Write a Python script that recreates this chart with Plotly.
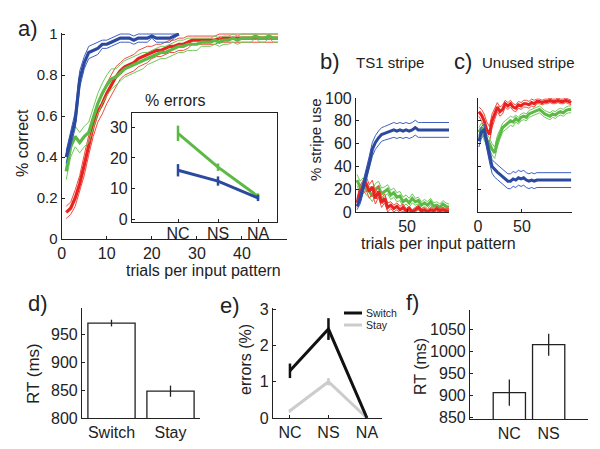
import plotly.graph_objects as go

# ---------------- data ----------------
# panel a: % correct vs trials
a_x_blue = list(range(1, 27))
a_blue = [0.40, 0.49, 0.58, 0.78, 0.86, 0.91, 0.92, 0.93, 0.95, 0.95, 0.96, 0.97, 0.98,
          0.98, 0.98, 0.97, 0.98, 0.98, 0.98, 0.99, 0.98, 0.98, 0.98, 0.98, 0.99, 1.00]
a_blue_err = [0.03, 0.04, 0.04, 0.04, 0.03, 0.03, 0.03, 0.03, 0.02, 0.02, 0.02, 0.02, 0.02,
              0.02, 0.02, 0.02, 0.02, 0.02, 0.02, 0.01, 0.02, 0.02, 0.02, 0.02, 0.01, 0.0]
a_x_rg = list(range(1, 49))
a_red = [0.13, 0.15, 0.20, 0.27, 0.36, 0.46, 0.55, 0.62, 0.66, 0.71, 0.75, 0.79, 0.82, 0.84,
         0.85, 0.86, 0.88, 0.89, 0.90, 0.91, 0.92, 0.92, 0.93, 0.94, 0.94, 0.95, 0.95, 0.96,
         0.97, 0.97, 0.97, 0.97, 0.97, 0.97, 0.98, 0.98, 0.98, 0.98, 0.98, 0.98, 0.98, 0.98,
         0.98, 0.98, 0.98, 0.98, 0.98, 0.98]
a_red_err = [0.03, 0.03, 0.04, 0.04, 0.05, 0.05, 0.05, 0.05, 0.05, 0.05, 0.05, 0.05, 0.04, 0.04,
             0.04, 0.04, 0.04, 0.04, 0.04, 0.03, 0.03, 0.03, 0.03, 0.03, 0.03, 0.03, 0.03, 0.03,
             0.02, 0.02, 0.02, 0.02, 0.02, 0.02, 0.02, 0.02, 0.02, 0.02, 0.02, 0.02, 0.02, 0.02,
             0.02, 0.02, 0.02, 0.02, 0.02, 0.02]
a_green = [0.33, 0.45, 0.50, 0.47, 0.50, 0.52, 0.59, 0.66, 0.71, 0.75, 0.78, 0.79, 0.81, 0.83,
           0.84, 0.85, 0.86, 0.87, 0.88, 0.89, 0.90, 0.91, 0.91, 0.92, 0.93, 0.94, 0.94, 0.95,
           0.95, 0.95, 0.96, 0.96, 0.96, 0.97, 0.96, 0.97, 0.97, 0.98, 0.97, 0.98, 0.98, 0.98,
           0.99, 0.98, 0.98, 0.99, 0.98, 0.98]
a_green_err = [0.04, 0.05, 0.05, 0.05, 0.05, 0.05, 0.05, 0.05, 0.05, 0.05, 0.05, 0.04, 0.04, 0.04,
               0.04, 0.04, 0.04, 0.04, 0.03, 0.03, 0.03, 0.03, 0.03, 0.03, 0.03, 0.03, 0.03, 0.03,
               0.03, 0.03, 0.02, 0.02, 0.02, 0.02, 0.02, 0.02, 0.02, 0.02, 0.02, 0.02, 0.02, 0.02,
               0.01, 0.02, 0.02, 0.01, 0.02, 0.02]

# inset: % errors
inset_cats = ["NC", "NS", "NA"]
inset_green = [28, 17, 7.5]
inset_green_err = [2.5, 1.2, 1.0]
inset_blue = [16, 12.5, 7]
inset_blue_err = [2.0, 1.5, 1.0]

# panel b: TS1 stripe use
b_x = list(range(1, 92, 3))
b_blue = [5, 11, 22, 32, 43, 55, 61, 65, 68, 69, 70, 71, 72, 71, 72, 71, 72, 71, 72, 74,
          72, 72, 72, 72, 72, 72, 72, 72, 72, 72, 72]
b_blue_err = [3, 4, 5, 5, 6, 6, 6, 6, 6, 6, 6, 6, 6.5, 6.5, 6.5, 6.5, 6.5, 6.5, 6.5, 6.5,
              6.5, 6.5, 6.5, 6.5, 6.5, 6.5, 6.5, 6.5, 6.5, 6.5, 6.5]
b_red = [8, 18, 22, 25, 18, 22, 12, 18, 8, 12, 4, 6, 3, 5, 2, 4, 1, 3, 0, 2,
         4, 1, 2, 0, 2, 1, 3, 1, 2, 1, 1]
b_red_err = [4, 5, 6, 6, 6, 6, 5, 5, 4, 4, 4, 3, 3, 3, 3, 3, 2, 2, 2, 2,
             2, 2, 2, 2, 2, 2, 2, 2, 2, 2, 2]
b_green = [28, 22, 25, 20, 18, 14, 20, 22, 16, 18, 20, 15, 17, 13, 14, 9, 11, 8, 12, 9,
           10, 6, 8, 6, 9, 5, 6, 4, 7, 5, 4]
b_green_err = [5, 5, 5, 5, 5, 5, 5, 5, 5, 4, 4, 4, 4, 4, 4, 4, 4, 4, 4, 3,
               3, 3, 3, 3, 3, 3, 3, 3, 3, 3, 3]

# panel c: unused stripe use
c_x = list(range(1, 107, 3))
c_red = [88, 85, 80, 72, 68, 80, 86, 92, 88, 90, 95, 93, 95, 92, 91, 94, 93, 95, 95, 94,
         96, 95, 97, 97, 96, 97, 97, 98, 97, 97, 98, 97, 97, 98, 97, 96]
c_red_err = [4, 5, 6, 7, 7, 6, 5, 4, 4, 4, 3, 3, 3, 3, 3, 3, 3, 3, 3, 3,
             3, 3, 2, 2, 2, 2, 2, 2, 2, 2, 2, 2, 2, 2, 2, 2]
c_green = [70, 74, 68, 63, 60, 55, 52, 62, 68, 74, 76, 78, 80, 79, 82, 80, 83, 84, 83, 86,
           87, 88, 89, 90, 88, 86, 85, 84, 86, 85, 87, 88, 87, 89, 90, 90]
c_green_err = [4, 4, 5, 5, 5, 5, 5, 5, 4, 4, 4, 4, 4, 4, 3, 3, 3, 3, 3, 3,
               3, 3, 3, 3, 3, 3, 3, 3, 3, 3, 3, 3, 3, 3, 3, 3]
c_blue = [62, 70, 72, 60, 50, 40, 37, 35, 33, 31, 29, 27, 27, 29, 28, 30, 29, 30, 28, 27,
          28, 27, 28, 28, 28, 28, 28, 28, 28, 28, 28, 28, 28, 28, 28, 28]
c_blue_err = [5, 5, 5, 6, 6, 6, 6.5, 6.5, 6.5, 6.5, 6.5, 6.5, 6.5, 6.5, 6.5, 6.5, 6.5, 6.5,
              6.5, 6.5, 6.5, 6.5, 6.5, 6.5, 6.5, 6.5, 6.5, 6.5, 6.5, 6.5, 6.5, 6.5, 6.5,
              6.5, 6.5, 6.5]

# panel d: RT switch/stay
d_cats = ["Switch", "Stay"]
d_rt = [970, 848]
d_rt_err = [6, 10]

# panel e: errors (%)
e_cats = ["NC", "NS", "NA"]
e_switch = [1.3, 2.45, 0.0]
e_switch_err = [0.2, 0.3, 0.0]
e_stay = [0.2, 1.0, 0.0]
e_stay_err = [0.05, 0.1, 0.0]

# panel f: RT NC/NS
f_cats = ["NC", "NS"]
f_rt = [906, 1015]
f_rt_err = [30, 25]

# ---------------- style ----------------
W, H = 600, 449
FONT = "Liberation Sans, Arial, Helvetica, sans-serif"
BLUE, BLUE_T = "#2b4a9e", "#3d5fc4"
RED, RED_T = "#e8231f", "#f04a40"
GREEN, GREEN_T = "#5cb946", "#6ecb58"


def px_x(p):
    return p / W


def px_y(p):
    return 1 - p / H


fig = go.Figure()


def band(xs, mean, err, ax, color, tcolor, mw, tw=1.0):
    up = [m + e for m, e in zip(mean, err)]
    lo = [m - e for m, e in zip(mean, err)]
    for ys in (up, lo):
        fig.add_trace(go.Scatter(x=xs, y=ys, mode="lines", xaxis="x" + ax, yaxis="y" + ax,
                                 line=dict(color=tcolor, width=tw), showlegend=False,
                                 hoverinfo="skip"))
    fig.add_trace(go.Scatter(x=xs, y=mean, mode="lines", xaxis="x" + ax, yaxis="y" + ax,
                             line=dict(color=color, width=mw), showlegend=False))


# panel a
band(a_x_rg, a_red, a_red_err, "", RED, RED_T, 3.2)
band(a_x_rg, a_green, a_green_err, "", GREEN, GREEN_T, 3.2)
band(a_x_blue, a_blue, a_blue_err, "", BLUE, BLUE_T, 3.2)

# inset
inset_x = [1, 2, 3]
for vals, errs, col in ((inset_green, inset_green_err, GREEN), (inset_blue, inset_blue_err, BLUE)):
    fig.add_trace(go.Scatter(x=inset_x, y=vals, mode="lines", xaxis="x2", yaxis="y2",
                             line=dict(color=col, width=3),
                             error_y=dict(type="data", array=errs, width=0, thickness=2.5, color=col),
                             showlegend=False))

# panel b
band(b_x, b_green, b_green_err, "3", GREEN, GREEN_T, 3)
band(b_x, b_red, b_red_err, "3", RED, RED_T, 3)
band(b_x, b_blue, b_blue_err, "3", BLUE, BLUE_T, 3)

# panel c
band(c_x, c_red, c_red_err, "4", RED, RED_T, 3)
band(c_x, c_green, c_green_err, "4", GREEN, GREEN_T, 3)
band(c_x, c_blue, c_blue_err, "4", BLUE, BLUE_T, 3)

# panel d
fig.add_trace(go.Bar(x=[1, 2], y=d_rt, width=0.8, xaxis="x5", yaxis="y5",
                     marker=dict(color="white", line=dict(color="#222", width=1.3)),
                     error_y=dict(type="data", array=d_rt_err, width=0, thickness=1.3, color="#222"),
                     showlegend=False))

# panel e
fig.add_trace(go.Scatter(x=[1, 2, 3], y=e_stay, mode="lines", xaxis="x6", yaxis="y6",
                         line=dict(color="#cccccc", width=3),
                         error_y=dict(type="data", array=e_stay_err, width=0, thickness=2.5, color="#cccccc"),
                         showlegend=False))
fig.add_trace(go.Scatter(x=[1, 2, 3], y=e_switch, mode="lines", xaxis="x6", yaxis="y6",
                         line=dict(color="#111111", width=3),
                         error_y=dict(type="data", array=e_switch_err, width=0, thickness=2.5, color="#111111"),
                         showlegend=False))

# panel f
fig.add_trace(go.Bar(x=[1, 2], y=f_rt, width=0.82, xaxis="x7", yaxis="y7",
                     marker=dict(color="white", line=dict(color="#222", width=1.3)),
                     error_y=dict(type="data", array=f_rt_err, width=0, thickness=1.3, color="#222"),
                     showlegend=False))

TF = dict(family=FONT, size=16, color="#222")


def ax(domain, rng, anchor, **kw):
    d = dict(domain=domain, range=rng, anchor=anchor, showline=True, linecolor="#222",
             linewidth=1.2, ticks="inside", ticklen=3, tickcolor="#222", showgrid=False,
             zeroline=False, tickfont=TF, automargin=False, fixedrange=True)
    d.update(kw)
    return d


yb = [px_y(212), px_y(98)]
ybot = [px_y(418), px_y(308)]

fig.update_layout(
    width=W, height=H, margin=dict(l=0, r=0, t=0, b=0),
    paper_bgcolor="white", plot_bgcolor="rgba(0,0,0,0)",
    font=dict(family=FONT, size=16, color="#222"),
    showlegend=False,
    xaxis=ax([px_x(61.7), px_x(287)], [0, 50], "y", tickvals=[0, 10, 20, 30, 40]),
    yaxis=ax([px_y(239), px_y(33)], [0, 1.005], "x", tickvals=[0, 0.2, 0.4, 0.6, 0.8, 1],
             ticktext=["0", "0.2", "0.4", "0.6", "0.8", "1"], tickfont=dict(TF, size=15)),
    xaxis2=ax([px_x(132), px_x(277)], [-0.15, 3.475], "y2", tickvals=inset_x, ticktext=inset_cats,
              mirror=True, ticklabelstandoff=-3),
    yaxis2=ax([px_y(222), px_y(113)], [-0.8, 34.6], "x2", tickvals=[0, 10, 20, 30], mirror=True),
    xaxis3=ax([px_x(356), px_x(449)], [0, 91], "y3", tickvals=[50]),
    yaxis3=ax(yb, [0, 100], "x3", tickvals=[0, 20, 40, 60, 80, 100]),
    xaxis4=ax([px_x(478), px_x(572)], [0, 107], "y4", tickvals=[0, 50]),
    yaxis4=ax(yb, [0, 100], "x4", tickvals=[0, 20, 40, 60, 80, 100], showticklabels=False),
    xaxis5=ax([px_x(82), px_x(200)], [0.5, 2.5], "y5", tickvals=[1, 2], ticktext=d_cats, ticks=""),
    yaxis5=ax(ybot, [800, 997], "x5", tickvals=[800, 850, 900, 950]),
    xaxis6=ax([px_x(273), px_x(382)], [0.56, 3.39], "y6", tickvals=[1, 2, 3], ticktext=e_cats),
    yaxis6=ax(ybot, [0, 3.03], "x6", tickvals=[0, 1, 2, 3]),
    xaxis7=ax([px_x(470), px_x(588)], [0, 3], "y7", tickvals=[1, 2], ticktext=f_cats, ticks=""),
    yaxis7=ax([px_y(419), px_y(310)], [846, 1094], "x7", tickvals=[850, 900, 950, 1000, 1050]),
)


def note(text, x, y, size=16, angle=0, xanchor="center"):
    fig.add_annotation(text=text, x=px_x(x), y=px_y(y), xref="paper", yref="paper",
                       showarrow=False, textangle=angle, xanchor=xanchor, yanchor="middle",
                       font=dict(family=FONT, size=size, color="#222"))


note("a)", 28, 28, 22)
note("% correct", 22, 143, 16, -90)
note("trials per input pattern", 203, 270, 16)
note("% errors", 143, 100, 16, xanchor="left")
note("b)", 330, 62, 22)
note("TS1 stripe", 390, 63, 15)
note("c)", 463, 62, 22)
note("Unused stripe", 528, 63, 15)
note("% stripe use", 315, 140, 15, -90)
note("trials per input pattern", 438, 243, 16)
note("d)", 38, 303, 22)
note("RT (ms)", 33, 374, 17, -90)
note("e)", 230, 305, 22)
note("errors (%)", 245, 360, 16, -90)
note("f)", 412, 302, 22)
note("RT (ms)", 420, 367, 16, -90)

# legend for panel e
fig.add_shape(type="line", xref="paper", yref="paper", x0=px_x(344), x1=px_x(362),
              y0=px_y(313), y1=px_y(313), line=dict(color="#111111", width=3))
fig.add_shape(type="line", xref="paper", yref="paper", x0=px_x(344), x1=px_x(362),
              y0=px_y(325), y1=px_y(325), line=dict(color="#cccccc", width=3))
note("Switch", 364, 313, 10.5, xanchor="left")
note("Stay", 364, 325, 10.5, xanchor="left")

fig.write_html("out.html", config={"displayModeBar": False},
               post_script="document.body.style.margin='0';document.body.style.overflow='hidden';")
